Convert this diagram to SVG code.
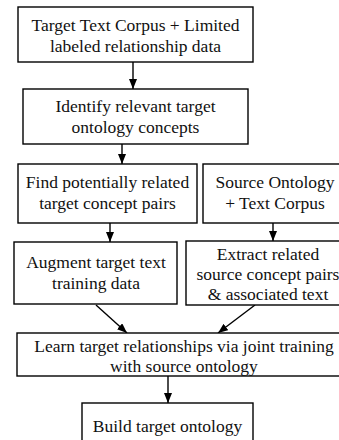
<svg xmlns="http://www.w3.org/2000/svg" width="339" height="440" viewBox="0 0 339 440" font-family="Liberation Serif">
  <style>
    .box { fill: #ffffff; stroke: #000000; stroke-width: 1.4; }
    .lbl { font-size: 17.5px; fill: #111111; text-anchor: middle; }
    .edge { stroke: #000000; stroke-width: 1.4; fill: none; marker-end: url(#arrow); }
  </style>
  <defs>
    <marker id="arrow" markerUnits="userSpaceOnUse" markerWidth="10" markerHeight="8" viewBox="0 0 10 8" refX="10" refY="4" orient="auto">
      <path d="M0,0 L10,4 L0,8 Z" fill="#000000"/>
    </marker>
  </defs>
  <rect width="339" height="440" fill="#ffffff"/>

  <g id="connectors">
    <line class="edge" x1="133" y1="62" x2="133" y2="89"/>
    <line class="edge" x1="122" y1="144" x2="122" y2="164"/>
    <line class="edge" x1="110" y1="223" x2="110" y2="242"/>
    <line class="edge" x1="273" y1="223" x2="273" y2="241"/>
    <line class="edge" x1="96" y1="305" x2="127" y2="333"/>
    <line class="edge" x1="255" y1="305" x2="218" y2="333"/>
    <line class="edge" x1="168" y1="376" x2="168" y2="403"/>
  </g>

  <g id="corpus">
    <rect class="box" x="18" y="7" width="235" height="55"/>
    <text class="lbl" x="135.5" y="31">Target Text Corpus + Limited</text>
    <text class="lbl" x="135.5" y="52">labeled relationship data</text>
  </g>

  <g id="identify">
    <rect class="box" x="23" y="89" width="225" height="55"/>
    <text class="lbl" x="135.5" y="112">Identify relevant target</text>
    <text class="lbl" x="135.5" y="133">ontology concepts</text>
  </g>

  <g id="find-pairs">
    <rect class="box" x="18" y="164" width="179" height="59"/>
    <text class="lbl" x="107.5" y="188">Find potentially related</text>
    <text class="lbl" x="107.5" y="209">target concept pairs</text>
  </g>

  <g id="source">
    <rect class="box" x="203" y="164" width="144" height="59"/>
    <text class="lbl" x="275" y="188">Source Ontology</text>
    <text class="lbl" x="275" y="209">+ Text Corpus</text>
  </g>

  <g id="augment">
    <rect class="box" x="14" y="242" width="163" height="62"/>
    <text class="lbl" x="96" y="268">Augment target text</text>
    <text class="lbl" x="96" y="289">training data</text>
  </g>

  <g id="extract">
    <rect class="box" x="186" y="241" width="164" height="64"/>
    <text class="lbl" x="268" y="260">Extract related</text>
    <text class="lbl" x="268" y="280">source concept pairs</text>
    <text class="lbl" x="268" y="300">&amp; associated text</text>
  </g>

  <g id="learn">
    <rect class="box" x="17" y="333" width="334" height="43"/>
    <text class="lbl" x="184" y="352">Learn target relationships via joint training</text>
    <text class="lbl" x="184" y="372">with source ontology</text>
  </g>

  <g id="build">
    <rect class="box" x="82" y="403" width="171" height="50"/>
    <text class="lbl" x="167.5" y="432">Build target ontology</text>
  </g>
</svg>
